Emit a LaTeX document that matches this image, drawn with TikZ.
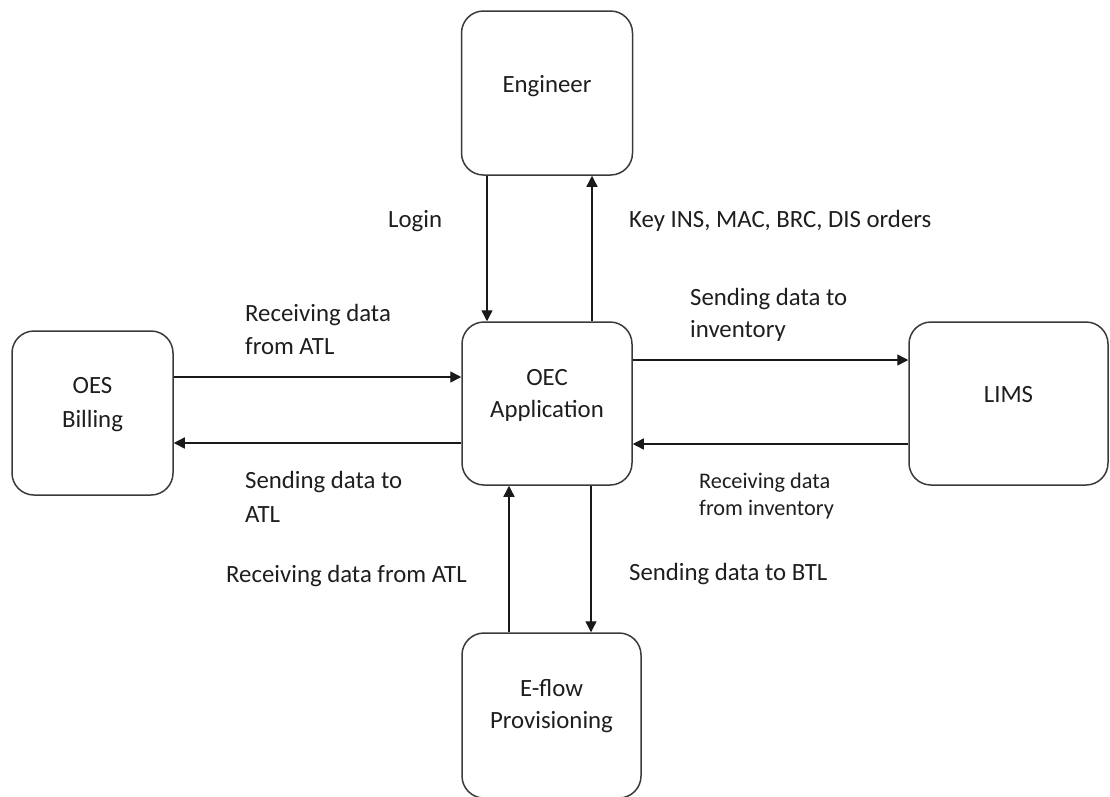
\documentclass[tikz,border=0pt]{standalone}
\usepackage{fontspec}
\setmainfont{Carlito}
\usetikzlibrary{arrows.meta}
\definecolor{ink}{HTML}{1E1E1E}
\definecolor{rim}{HTML}{3A3A3A}
\begin{document}
\begin{tikzpicture}[x=1pt,y=-1pt,
  proc/.style={draw=rim, line width=1.5pt, rounded corners=22pt, inner sep=0pt},
  boxtext/.style={text=ink, align=center, font=\fontsize{24.8}{32}\selectfont, inner sep=0pt, anchor=base},
  lbl/.style={text=ink, align=left, font=\fontsize{24.8}{33}\selectfont, inner sep=0pt, anchor=base west},
  flow/.style={draw=black!90, line width=1.4pt, -{Triangle[length=11pt,width=11pt]}}]
\useasboundingbox (0,0) rectangle (1110,796);

% process boxes
\node[proc, minimum width=171pt, minimum height=164pt] (eng)  at (547,93)     {};
\node[proc, minimum width=170pt, minimum height=163pt] (oec)  at (547,403.5)  {};
\node[proc, minimum width=161pt, minimum height=164pt] (oes)  at (92.5,413)   {};
\node[proc, minimum width=199pt, minimum height=163pt] (lims) at (1008.5,403.5) {};
\node[proc, minimum width=179pt, minimum height=165pt] (efl)  at (551.5,715.5) {};

% box captions (base anchor sits on the last line)
\node[boxtext] (engT)  at ([yshift=1pt]eng.center)      {Engineer};
\node[boxtext] (oecT)  at ([yshift=-13.5pt]oec.center)  {OEC\\Application};
\node[boxtext, font=\fontsize{24.8}{34}\selectfont] (oesT) at ([yshift=-14pt]oes.center) {OES\\Billing};
\node[boxtext] (limsT) at ([yshift=1.5pt]lims.center)   {LIMS};
\node[boxtext] (eflT)  at ([yshift=-12.5pt]efl.center)  {E-flow\\Provisioning};

% flows between the engineer and the application
\draw[flow] ([xshift=-60pt]eng.south) -- ([xshift=-60pt]oec.north);
\draw[flow] ([xshift=45pt]oec.north) -- ([xshift=45pt]eng.south);

% flows between billing and the application
\draw[flow] ([yshift=36pt]oes.east) -- ([yshift=26.5pt]oec.west);
\draw[flow] ([yshift=-39.5pt]oec.west) -- ([yshift=-30pt]oes.east);

% flows between the application and inventory
\draw[flow] ([yshift=43.5pt]oec.east) -- ([yshift=43.5pt]lims.west);
\draw[flow] ([yshift=-40.5pt]lims.west) -- ([yshift=-40.5pt]oec.east);

% flows between the application and provisioning
\draw[flow] ([xshift=-42.5pt]efl.north) -- ([xshift=-38pt]oec.south);
\draw[flow] ([xshift=44pt]oec.south) -- ([xshift=39.5pt]efl.north);

% connector labels (multi-line ones are placed by their last baseline)
\node[lbl] (lLogin) at (388,227) {Login};
\node[lbl] (lKey)   at (629,227) {Key INS, MAC, BRC, DIS orders};
\node[lbl] (lRxA)   at (245,354) {Receiving data\\from ATL};
\node[lbl, font=\fontsize{24.8}{32}\selectfont] (lTxI) at (690,337) {Sending data to\\inventory};
\node[lbl, font=\fontsize{24.8}{34}\selectfont] (lTxA) at (245,522) {Sending data to\\ATL};
\node[lbl, font=\fontsize{22.3}{27}\selectfont] (lRxI) at (699,515) {Receiving data\\from inventory};
\node[lbl] (lRxE)   at (226,582) {Receiving data from ATL};
\node[lbl] (lTxB)   at (629,580) {Sending data to BTL};
\end{tikzpicture}
\end{document}
